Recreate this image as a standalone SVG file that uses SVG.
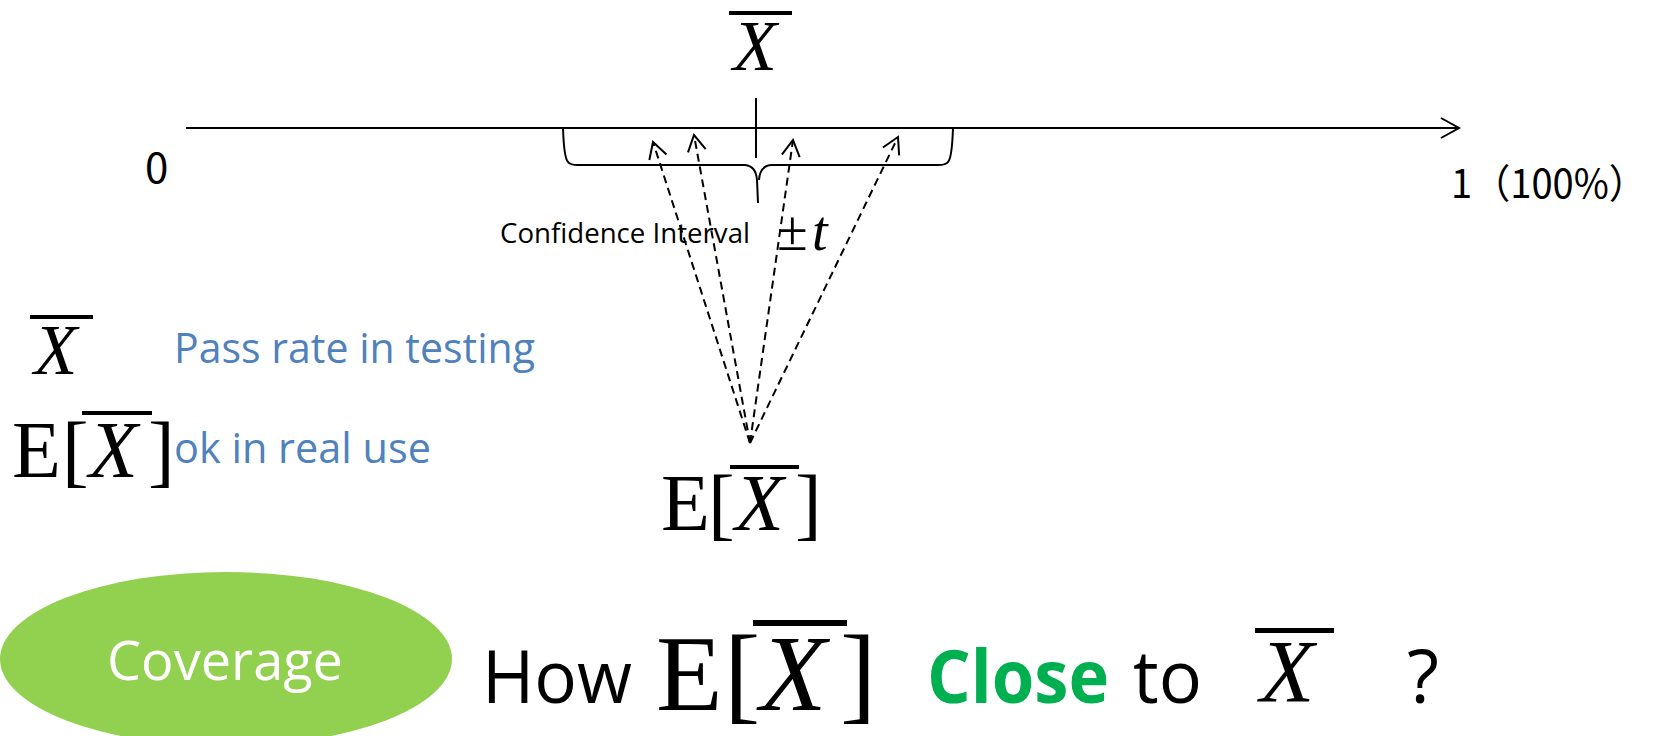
<svg xmlns="http://www.w3.org/2000/svg" width="1661" height="736" viewBox="0 0 1661 736">
<style>
.sans{font-family:"Open Sans","Liberation Sans",sans-serif;}
.cjk{font-family:"Noto Sans CJK SC","Noto Sans",sans-serif;}
.serif{font-family:"Liberation Serif","DejaVu Serif",serif;fill:#000;}
.it{font-style:italic;}
.blue{fill:#4f81bd;}
.ln{stroke:#000;stroke-width:2;fill:none;}
.dash{stroke:#000;stroke-width:2;fill:none;stroke-dasharray:8 5;}
</style>
<defs>
<marker id="open" markerUnits="userSpaceOnUse" markerWidth="30" markerHeight="30" refX="0" refY="0" viewBox="-20 -15 30 30" orient="auto">
<path d="M-16,-9 L0,0 L-16,9" fill="none" stroke="#000" stroke-width="2"/>
</marker>
<marker id="axisHead" markerUnits="userSpaceOnUse" markerWidth="30" markerHeight="30" refX="0" refY="0" viewBox="-25 -15 30 30" orient="auto">
<path d="M-18,-10 L0,0 L-18,10" fill="none" stroke="#000" stroke-width="2"/>
</marker>
</defs>
<rect width="1661" height="736" fill="#fff"/>

<g id="connectors">
<line id="axis" class="ln" x1="186" y1="128" x2="1459" y2="128" marker-end="url(#axisHead)"/>
<line id="tick" class="ln" x1="756" y1="98" x2="756" y2="158"/>
<path id="brace" class="ln" d="M563,128 Q564,158 568,162 Q570,165 578,165 L745,165 Q756,166 757,180 L758,203 M953,128 Q952,158 948,162 Q946,165 938,165 L771,165 Q760,166 759,180"/>
<line class="dash" x1="750" y1="443" x2="653" y2="142" marker-end="url(#open)"/>
<line class="dash" x1="750" y1="443" x2="694" y2="135" marker-end="url(#open)"/>
<line class="dash" x1="750" y1="443" x2="793" y2="140" marker-end="url(#open)"/>
<line class="dash" x1="750" y1="443" x2="898" y2="137" marker-end="url(#open)"/>
</g>

<g id="axis-labels">
<text class="cjk" x="145" y="183" font-size="42">0</text>
<text class="cjk" x="1451" y="198" font-size="40" textLength="196" lengthAdjust="spacingAndGlyphs">1（100%）</text>
</g>

<g id="xbar-top">
<rect x="729" y="11" width="63" height="4" fill="#000"/>
<text class="serif it" x="733" y="70" font-size="72">X</text>
</g>

<g id="confidence">
<text class="sans" x="500" y="243" font-size="27" textLength="250" lengthAdjust="spacingAndGlyphs">Confidence Interval</text>
<text class="serif" x="777" y="250" font-size="56">±</text>
<text class="serif it" x="812" y="250" font-size="56">t</text>
</g>

<g id="legend-xbar">
<rect x="30" y="315" width="63" height="4" fill="#000"/>
<text class="serif it" x="34" y="374" font-size="71">X</text>
<text class="sans blue" x="174" y="363" font-size="42" textLength="361" lengthAdjust="spacingAndGlyphs">Pass rate in testing</text>
</g>

<g id="legend-ex">
<text class="serif" x="12" y="477" font-size="80">E</text>
<text class="serif" x="62" y="477" font-size="80">[</text>
<rect x="82" y="411" width="70" height="4" fill="#000"/>
<text class="serif it" x="89" y="477" font-size="80">X</text>
<text class="serif" x="148" y="477" font-size="80">]</text>
<text class="sans blue" x="174" y="463" font-size="42" textLength="257" lengthAdjust="spacingAndGlyphs">ok in real use</text>
</g>

<g id="center-ex">
<text class="serif" x="661" y="530" font-size="80">E</text>
<text class="serif" x="708" y="530" font-size="80">[</text>
<rect x="730" y="465" width="69" height="4" fill="#000"/>
<text class="serif it" x="735" y="530" font-size="80">X</text>
<text class="serif" x="795" y="530" font-size="80">]</text>
</g>

<g id="coverage">
<ellipse cx="226" cy="659" rx="226" ry="87" fill="#92d050"/>
<text class="sans" x="107" y="680" font-size="55" fill="#fff" textLength="236" lengthAdjust="spacingAndGlyphs">Coverage</text>
</g>

<g id="question">
<text class="sans" x="482" y="703" font-size="74" textLength="150" lengthAdjust="spacingAndGlyphs">How</text>
<text class="serif" x="656" y="710" font-size="109">E</text>
<text class="serif" x="724" y="710" font-size="109">[</text>
<rect x="753" y="620" width="94" height="6" fill="#000"/>
<text class="serif it" x="760" y="710" font-size="109">X</text>
<text class="serif" x="840" y="710" font-size="109">]</text>
<text class="sans" x="927" y="703" font-size="74" font-weight="bold" fill="#00b050" textLength="182" lengthAdjust="spacingAndGlyphs">Close</text>
<text class="sans" x="1133" y="703" font-size="74" textLength="69" lengthAdjust="spacingAndGlyphs">to</text>
<rect x="1255" y="628" width="79" height="5" fill="#000"/>
<text class="serif it" x="1260" y="701" font-size="89">X</text>
<text class="sans" x="1407" y="703" font-size="74">?</text>
</g>
</svg>
